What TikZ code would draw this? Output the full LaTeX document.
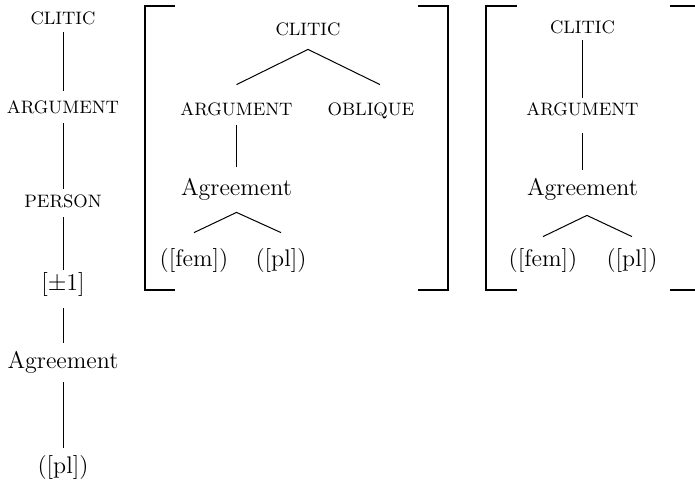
\documentclass[tikz,border=0pt]{standalone}

\begin{document}
\begin{tikzpicture}[
            x=0.5pt, y=-0.5pt,
            feat/.style={anchor=base, inner sep=0pt, text height=6.2pt, text depth=0pt, font=\fontsize{9}{10}\selectfont},
            word/.style={anchor=base, inner sep=0pt, text height=8.2pt, text depth=2.5pt, font=\fontsize{12}{14}\selectfont},
            branch/.style={draw=black, line width=0.5pt},
            bracket/.style={draw=black, line width=1pt}
        ]
            \useasboundingbox (0, 0) rectangle (695, 487);
            % first tree
            \node[feat] (l-clitic) at (63, 25) {CLITIC};
            \node[feat] (l-arg) at (63, 113) {ARGUMENT};
            \node[feat] (l-person) at (63, 207) {PERSON};
            \node[word] (l-one) at (63, 290) {[$\pm$1]};
            \node[word] (l-agr) at (63, 368) {Agreement};
            \node[word] (l-pl) at (63, 473) {([pl])};
            \draw[branch] ([yshift=-3.5pt]l-clitic.south) -- ([yshift=4.8pt]l-arg.north);
            \draw[branch] ([yshift=-5pt]l-arg.south) -- ([yshift=2.8pt]l-person.north);
            \draw[branch] ([yshift=-5pt]l-person.south) -- ([yshift=1.8pt]l-one.north);
            \draw[branch] ([yshift=-6.5pt]l-one.south) -- ([yshift=4.3pt]l-agr.north);
            \draw[branch] ([yshift=-4.5pt]l-agr.south) -- ([yshift=4.3pt]l-pl.north);
            % second tree
            \node[feat] (m-clitic) at (308, 35) {CLITIC};
            \node[feat] (m-arg) at (236.5, 115) {ARGUMENT};
            \node[feat] (m-obl) at (371, 115) {OBLIQUE};
            \node[word] (m-agr) at (236.5, 195) {Agreement};
            \node[word] (m-fem) at (194, 266) {([fem])};
            \node[word] (m-pl) at (281, 266) {([pl])};
            \draw[branch] ([yshift=8.8pt]m-arg.north) -- ([yshift=-7pt]m-clitic.south) -- ([xshift=4.5pt, yshift=8.8pt]m-obl.north);
            \draw[branch] ([yshift=-5pt]m-arg.south) -- ([yshift=5.8pt]m-agr.north);
            \draw[branch] ([yshift=8.3pt]m-fem.north) -- ([yshift=-6pt]m-agr.south) -- ([yshift=8.3pt]m-pl.north);
            \draw[bracket] (175, 6) -- (145, 6) -- (145, 290) -- (175, 290);
            \draw[bracket] (418, 6) -- (448, 6) -- (448, 290) -- (418, 290);
            % third tree
            \node[feat] (r-clitic) at (582.5, 33) {CLITIC};
            \node[feat] (r-arg) at (582.5, 115) {ARGUMENT};
            \node[word] (r-agr) at (582.5, 195) {Agreement};
            \node[word] (r-fem) at (543, 266) {([fem])};
            \node[word] (r-pl) at (632, 266) {([pl])};
            \draw[branch] ([yshift=-3.5pt]r-clitic.south) -- ([yshift=2pt]r-arg.north);
            \draw[branch] ([yshift=-9pt]r-arg.south) -- ([yshift=4.3pt]r-agr.north);
            \draw[branch] ([yshift=6.3pt]r-fem.north) -- ([xshift=2.2pt, yshift=-7.5pt]r-agr.south) -- ([yshift=6.3pt]r-pl.north);
            \draw[bracket] (517, 6) -- (486, 6) -- (486, 290) -- (517, 290);
            \draw[bracket] (670, 6) -- (698, 6) -- (698, 290) -- (670, 290);
        \end{tikzpicture}
\end{document}
